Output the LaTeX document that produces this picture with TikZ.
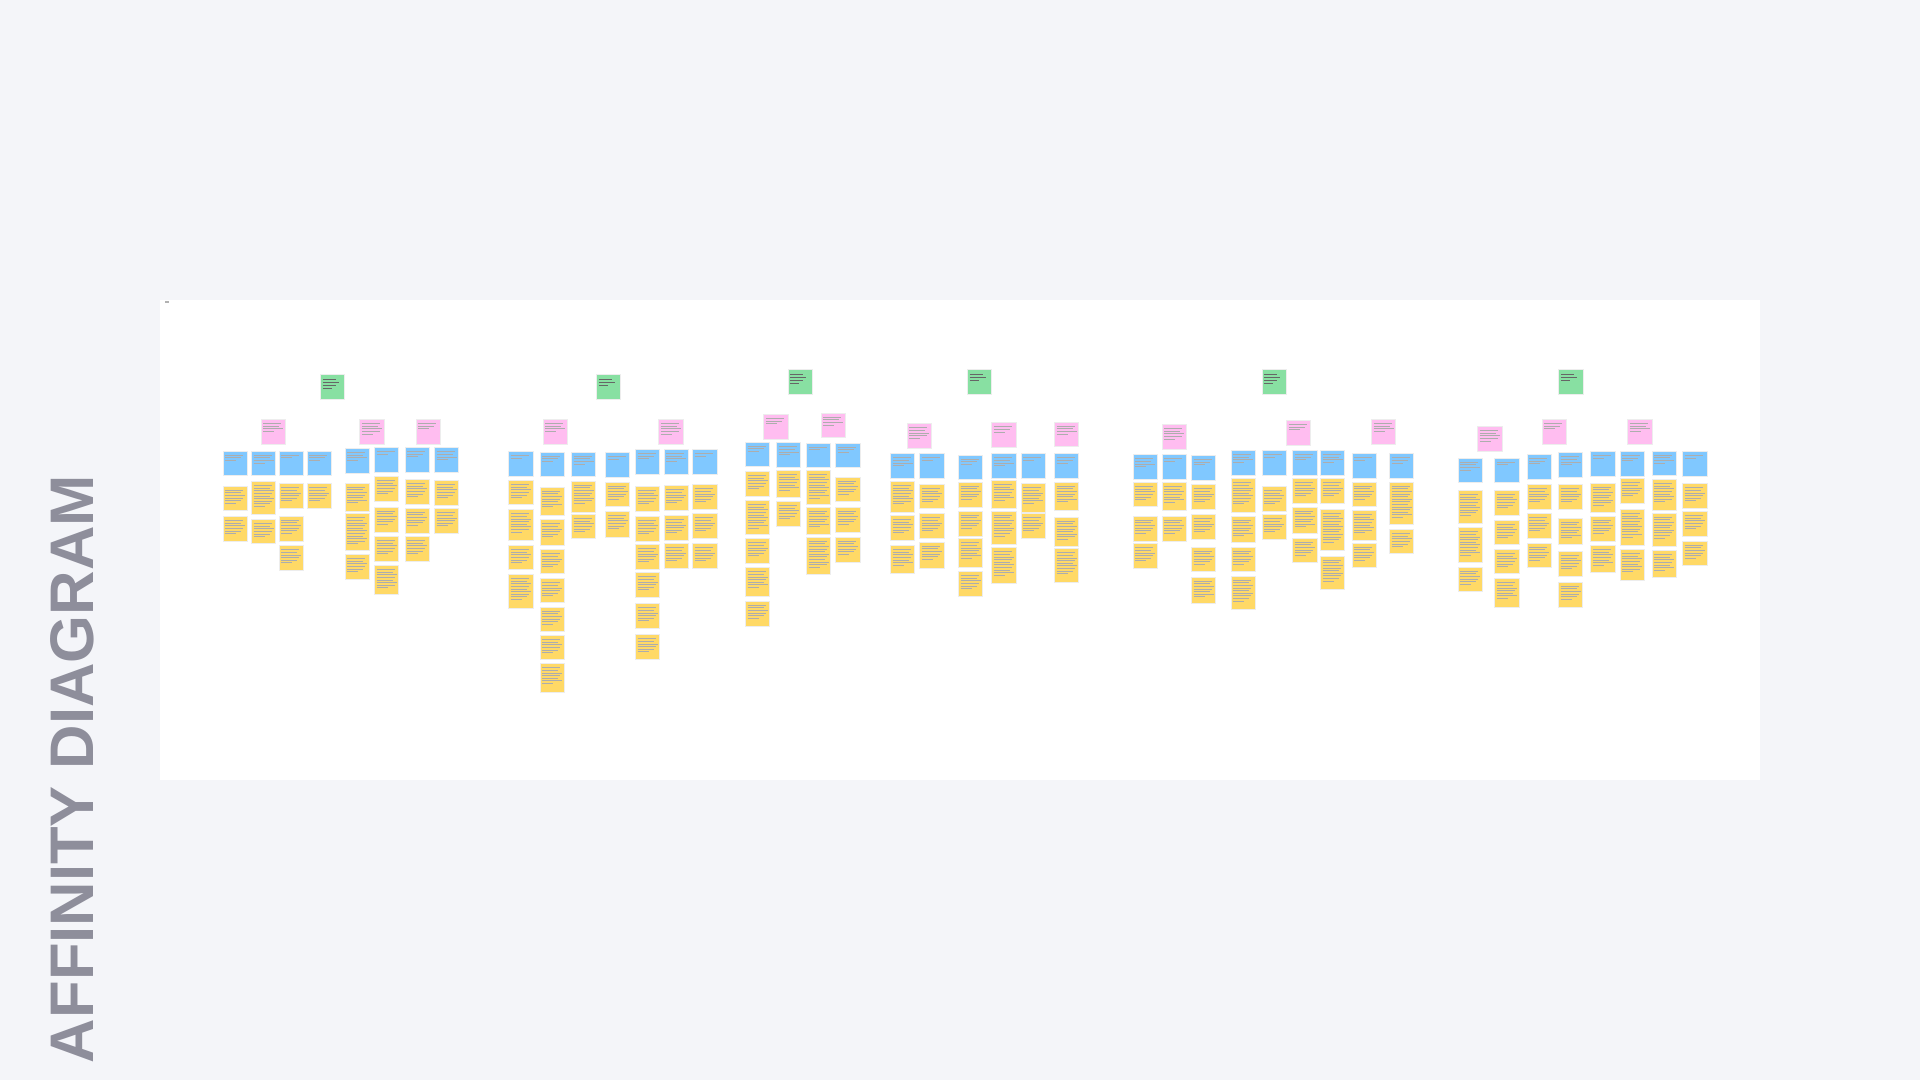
\documentclass[tikz,border=0pt]{standalone}
\usepackage{fontspec}
\setsansfont{Liberation Sans}
\usepackage{graphicx}
\usetikzlibrary{positioning}
\definecolor{pagebg}{HTML}{F4F5F9}
\definecolor{titlegray}{HTML}{8E8E9B}
\definecolor{stickyyellow}{HTML}{FFD966}
\definecolor{stickyblue}{HTML}{80C8FF}
\definecolor{stickypink}{HTML}{FFBDF0}
\definecolor{stickygreen}{HTML}{88E0A2}

\begin{document}
\begin{tikzpicture}[x=0.1mm, y=-0.1mm,
  note/.style={anchor=north west, inner sep=0pt, minimum width=2.43mm, minimum height=2.45mm, draw=black!7, line width=0.15pt},
  txt/.style={path picture={\foreach \k in {1,...,#1}{\pgfmathsetmacro\len{\k==#1 ? 11 : 20-2*mod(\k,3)}
    \draw[black!32, line width=0.05mm] ([shift={(2.3,1.5+2.6*\k)}]path picture bounding box.north west) -- ++(\len,0);}}},
  ttl/.style={path picture={\foreach \k in {1,...,#1}{\pgfmathsetmacro\len{\k==#1 ? 9 : 16-3*mod(\k,2)}
    \draw[black!60, line width=0.08mm] ([shift={(2.5,1.5+3.2*\k)}]path picture bounding box.north west) -- ++(\len,0);}}},
  panel/.style={fill=white, inner sep=0pt, minimum width=160mm, minimum height=48mm},
  heading/.style={rotate=90, text=titlegray, font=\sffamily\bfseries, inner sep=0pt}]
\useasboundingbox (0,0) rectangle (1920,1080);
\fill[pagebg] (0,0) rectangle (1920,1080);
\node[panel] (board) at (960,540) {};
\node[fill=black!30, inner sep=0pt, minimum width=0.4mm, minimum height=0.2mm, anchor=north west] (tag) at (164,300.7) {};
\node[heading] (title) at (72,769) {\resizebox{58.8mm}{!}{AFFINITY DIAGRAM}};

\foreach \x/\y [count=\n] in {320/374, 596/374, 787.7/369.3, 967/369.3, 1261.7/369.3, 1558.3/369.3}
  {\pgfmathtruncatemacro\nl{3+mod(\n,2)}
   \node[note, fill=stickygreen, ttl=\nl] (theme-\n) at (\x,\y) {};}

\foreach \x/\y [count=\n] in {260.7/419, 359.3/419, 415.7/419, 542.7/419, 658.3/419, 763.3/414, 820.7/412.7,
  906.7/423.3, 991.3/422.3, 1054/421.7, 1161.7/424, 1286/420, 1371/419, 1477.3/426, 1541.7/419, 1627.3/419}
  {\pgfmathtruncatemacro\nl{3+mod(\n,3)}
   \node[note, fill=stickypink, txt=\nl] (insight-\n) at (\x,\y) {};}

\foreach \x/\y [count=\n] in {222.7/450.7, 251/450.7, 278.7/450.7, 306.7/450.7, 344.7/448, 374/447.3, 404.7/447, 434/447.3,
  508.3/451, 539.7/451.7, 571/451.7, 605/452.3, 635/449, 663.7/449, 692.3/449,
  745/441.7, 776/442.3, 806/442.7, 835.3/442.7,
  890/453.3, 919.3/453.3, 958/454.7, 991.3/453.3, 1020.7/453.3, 1054/453.3,
  1132.7/454.3, 1161.7/454.3, 1191/455, 1230.7/450, 1261.7/450, 1292.3/450, 1320/450, 1351.7/453.3, 1389/453.3,
  1457.7/457.7, 1494.3/457.7, 1526.7/454, 1558/452.3, 1590.3/451, 1619.7/451, 1651.7/450.7, 1682.3/451}
  {\pgfmathtruncatemacro\nl{2+mod(\n,3)}
   \node[note, fill=stickyblue, txt=\nl] (group-\n) at (\x,\y) {};}

\foreach \x/\y/\h [count=\n] in {
  222.7/485.7/24.3, 222.7/516/24.7,
  251/481/33.3, 251/519/24.3,
  278.7/483.3/25, 278.7/515.7/25, 278.7/545.3/24.7,
  306.7/483.3/25,
  344.7/482.7/28, 344.7/513.3/36.7, 344.7/554/25,
  374/476/24.7, 374/506.7/25, 374/536/24.7, 374/565/29,
  404.7/479/25.3, 404.7/507.7/25, 404.7/536/25,
  434/480/25, 434/508.3/25,
  508.3/480/24, 508.3/509.3/30.7, 508.3/545/24.3, 508.3/574/33.7,
  539.7/486.7/28.3, 539.7/519.3/25.7, 539.7/549.3/24, 539.7/578.3/24, 539.7/606.7/24, 539.7/635/24, 539.7/663.3/28.4,
  571/480.7/31, 571/514/24.3,
  605/481.7/24.3, 605/511/25.7,
  635/486/24.7, 635/516/24.7, 635/544.3/24.7, 635/572.3/24.4, 635/603.3/25, 635/634.3/24.7,
  663.7/485.3/24.7, 663.7/515.3/24.7, 663.7/543.3/25,
  692.3/484.3/24.7, 692.3/513.3/25, 692.3/543.3/25,
  745/471/25, 745/500/34.3, 745/538.3/24.4, 745/567.3/28.4, 745/600.7/25,
  776/470/26.7, 776/501/24.7,
  806/470/34, 806/506.7/27.3, 806/536.7/37.3,
  835.3/476.7/24.3, 835.3/506.7/25, 835.3/536.7/25,
  890/481/31.3, 890/515/25, 890/545/28.3,
  919.3/484/24.3, 919.3/513.3/25, 919.3/541.7/26,
  958/481.7/25, 958/510.7/25, 958/538.3/28.4, 958/571/24.7,
  991.3/480/28.3, 991.3/510.7/33.3, 991.3/547.3/36,
  1020.7/483.3/28.4, 1020.7/513.3/25,
  1054/481.7/28.3, 1054/516.7/29, 1054/548.3/33.4,
  1132.7/482/24, 1132.7/515.7/25, 1132.7/543.3/25,
  1161.7/482/28, 1161.7/515.7/25,
  1191/484.3/25, 1191/514.3/25, 1191/546.7/24.3, 1191/576.7/26.6,
  1230.7/478.3/33.4, 1230.7/515.7/26.6, 1230.7/546.7/24.3, 1230.7/575.7/33.3,
  1261.7/486/24.7, 1261.7/514.3/24.7,
  1292.3/478.3/25, 1292.3/506.7/26.6, 1292.3/537.7/24,
  1320/478.3/24.4, 1320/509/41, 1320/555.7/33.3,
  1351.7/481.7/24.3, 1351.7/510/30, 1351.7/542.7/24.6,
  1389/481.7/42.6, 1389/529/24.3,
  1457.7/490/33.3, 1457.7/527.3/35, 1457.7/566.7/24.3,
  1494.3/490/25, 1494.3/520/24, 1494.3/549/24.3, 1494.3/578.3/28.4,
  1526.7/484.3/24.7, 1526.7/513.3/25, 1526.7/542.7/24.6,
  1558/484.3/24.7, 1558/517.7/26.3, 1558/551/24.7, 1558/581.7/25,
  1590.3/482.7/29, 1590.3/515.7/25, 1590.3/545/26.7,
  1619.7/478.3/25, 1619.7/509/36, 1619.7/549/31,
  1651.7/479/31, 1651.7/512.7/33, 1651.7/550/27.3,
  1682.3/483.3/24.4, 1682.3/511/24.7, 1682.3/540.7/24.3}
  {\pgfmathtruncatemacro\nl{(\h-8)/2.6}
   \node[note, fill=stickyyellow, minimum height=\h*0.1mm, txt=\nl] (idea-\n) at (\x,\y) {};}
\end{tikzpicture}
\end{document}
